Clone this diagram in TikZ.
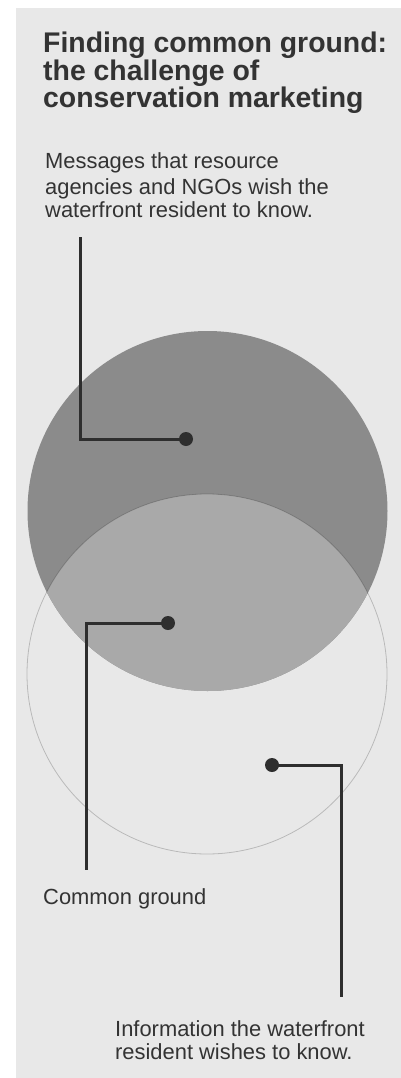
\documentclass[tikz,border=0pt]{standalone}
\usepackage{fontspec}
\setmainfont{Liberation Sans}
\usetikzlibrary{positioning}
\definecolor{panel}{HTML}{E8E8E8}
\definecolor{ringdark}{HTML}{8B8B8B}
\definecolor{ringmid}{HTML}{A9A9A9}
\definecolor{inkline}{HTML}{2E2E2E}
\definecolor{inktext}{HTML}{333333}

\begin{document}
\begin{tikzpicture}[x=1pt, y=-1pt,
  titletext/.style={anchor=base west, inner sep=0pt, text=inktext, font=\fontsize{28.4}{28}\selectfont\bfseries},
  bodytext/.style={anchor=base west, inner sep=0pt, text=inktext, font=\fontsize{21.9}{24}\selectfont},
  leader/.style={inkline, line width=3pt},
  dot/.style={circle, fill=inkline, inner sep=0pt, minimum size=14pt}]

% Background
\useasboundingbox (0,0) rectangle (401,1078);
\fill[white] (0,0) rectangle (401,1078);
\fill[panel] (16,8) rectangle (401,1078);

% Title
\node[titletext] (title1) at (43,53) {Finding common ground:};
\node[titletext] (title2) at (43,80.5) {the challenge of};
\node[titletext] (title3) at (43,108) {conservation marketing};

% Top label
\node[bodytext] (msg1) at (45,169) {Messages that resource};
\node[bodytext] (msg2) at (45,194) {agencies and NGOs wish the};
\node[bodytext] (msg3) at (45,218) {waterfront resident to know.};

% Circles
\fill[ringdark] (207.5,511) circle[radius=180];
\begin{scope}
  \clip (207.5,511) circle[radius=180];
  \fill[ringmid] (207,674) circle[radius=180];
\end{scope}
\draw[black, opacity=0.2, line width=0.8pt] (207,674) circle[radius=180];

% Leaders
\node[dot] (msgdot) at (186,439) {};
\coordinate (msgend) at (80,237);
\draw[leader] (msgdot.center) -| (msgend);

\node[dot] (cgdot) at (168,623) {};
\coordinate (cgend) at (86,870);
\draw[leader] (cgdot.center) -| (cgend);

\node[dot] (infodot) at (272,765) {};
\coordinate (infoend) at (341,997);
\draw[leader] (infodot.center) -| (infoend);

% Bottom labels
\node[bodytext] (cg) at (43,904) {Common ground};
\node[bodytext] (info1) at (115,1036) {Information the waterfront};
\node[bodytext] (info2) at (115,1059) {resident wishes to know.};

\end{tikzpicture}
\end{document}
